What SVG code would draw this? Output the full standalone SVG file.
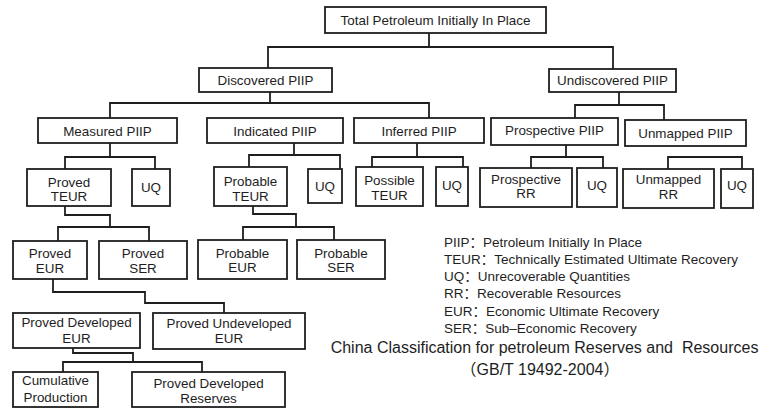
<svg xmlns="http://www.w3.org/2000/svg" width="760" height="409" viewBox="0 0 760 409">
<style>
.b{fill:#fff;stroke:#1e1e1e;stroke-width:1.8}
.c{fill:none;stroke:#1e1e1e;stroke-width:1.8}
text{font-family:"Liberation Sans","Noto Sans CJK SC",Arial,sans-serif;font-size:13.4px;fill:#1e1e1e;text-anchor:middle}
.l{text-anchor:start;font-size:13.5px}
.t{font-size:16px}
</style>
<rect width="760" height="409" fill="#fff"/>
<g id="connectors">
<polyline class="c" points="429,33 429,47"/>
<polyline class="c" points="268,68 268,47 613,47 613,69"/>
<polyline class="c" points="270,92 270,103"/>
<polyline class="c" points="110,118 110,103 429,103 429,118"/>
<polyline class="c" points="619,92 619,105"/>
<polyline class="c" points="575,118 575,105 664,105 664,120"/>
<polyline class="c" points="110,143 110,157"/>
<polyline class="c" points="65,169 65,157 155,157 155,169"/>
<polyline class="c" points="65,206 65,215 110,215 110,227"/>
<polyline class="c" points="58,241 58,227 149,227 149,241"/>
<polyline class="c" points="294,143 294,155"/>
<polyline class="c" points="249,167 249,155 340,155 340,169"/>
<polyline class="c" points="253,206 253,214 296,214 296,227"/>
<polyline class="c" points="243,240 243,227 334,227 334,240"/>
<polyline class="c" points="417,143 417,157"/>
<polyline class="c" points="372,167 372,157 463,157 463,167"/>
<polyline class="c" points="566,145 566,157"/>
<polyline class="c" points="531,168 531,157 603,157 603,168"/>
<polyline class="c" points="668,169 668,157 742,157 742,169"/>
<polyline class="c" points="53,279 53,292 145,292 145,303 224,303 224,313"/>
<polyline class="c" points="73,348 73,353 133,353 133,362"/>
<polyline class="c" points="63,372 63,362 202,362 202,372"/>
</g>
<g id="total"><rect class="b" x="325" y="7" width="221" height="26"/><text x="435.5" y="25">Total Petroleum Initially In Place</text></g>
<g id="discovered"><rect class="b" x="199" y="68" width="133" height="24"/><text x="265.5" y="85">Discovered PIIP</text></g>
<g id="undiscovered"><rect class="b" x="549" y="69" width="127" height="23"/><text x="612.5" y="85">Undiscovered PIIP</text></g>
<g id="measured"><rect class="b" x="38" y="118" width="139" height="25"/><text x="107.5" y="136">Measured PIIP</text></g>
<g id="indicated"><rect class="b" x="207" y="118" width="136" height="25"/><text x="275" y="136">Indicated PIIP</text></g>
<g id="inferred"><rect class="b" x="354" y="118" width="130" height="25"/><text x="419" y="136">Inferred PIIP</text></g>
<g id="prospective"><rect class="b" x="491" y="118" width="127" height="27"/><text x="554.5" y="135">Prospective PIIP</text></g>
<g id="unmapped"><rect class="b" x="625" y="120" width="121" height="26"/><text x="685.5" y="138">Unmapped PIIP</text></g>
<g id="proved-teur"><rect class="b" x="27" y="169" width="84" height="37"/><text x="69" y="187">Proved</text><text x="69" y="201">TEUR</text></g>
<g id="uq1"><rect class="b" x="132" y="169" width="38" height="37"/><text x="151" y="192">UQ</text></g>
<g id="probable-teur"><rect class="b" x="214" y="167" width="73" height="39"/><text x="250.5" y="186">Probable</text><text x="250.5" y="201">TEUR</text></g>
<g id="uq2"><rect class="b" x="308" y="169" width="34" height="34"/><text x="325" y="191">UQ</text></g>
<g id="possible-teur"><rect class="b" x="356" y="167" width="67" height="39"/><text x="389.5" y="185">Possible</text><text x="389.5" y="200">TEUR</text></g>
<g id="uq3"><rect class="b" x="436" y="167" width="32" height="39"/><text x="452" y="190">UQ</text></g>
<g id="prospective-rr"><rect class="b" x="480" y="168" width="92" height="39"/><text x="526" y="184">Prospective</text><text x="526" y="198">RR</text></g>
<g id="uq4"><rect class="b" x="577" y="168" width="40" height="39"/><text x="597" y="190">UQ</text></g>
<g id="unmapped-rr"><rect class="b" x="623" y="169" width="91" height="39"/><text x="668.5" y="184">Unmapped</text><text x="668.5" y="199">RR</text></g>
<g id="uq5"><rect class="b" x="721" y="169" width="32" height="39"/><text x="737" y="190">UQ</text></g>
<g id="proved-eur"><rect class="b" x="13" y="241" width="74" height="38"/><text x="50" y="258">Proved</text><text x="50" y="273">EUR</text></g>
<g id="proved-ser"><rect class="b" x="99" y="241" width="88" height="38"/><text x="143" y="258">Proved</text><text x="143" y="273">SER</text></g>
<g id="probable-eur"><rect class="b" x="198" y="240" width="89" height="39"/><text x="242.5" y="258">Probable</text><text x="242.5" y="272">EUR</text></g>
<g id="probable-ser"><rect class="b" x="297" y="240" width="88" height="39"/><text x="341" y="258">Probable</text><text x="341" y="272">SER</text></g>
<g id="proved-developed-eur"><rect class="b" x="13" y="313" width="127" height="35"/><text x="76.5" y="327">Proved Developed</text><text x="76.5" y="343">EUR</text></g>
<g id="proved-undeveloped-eur"><rect class="b" x="153" y="313" width="152" height="36"/><text x="229" y="328">Proved Undeveloped</text><text x="229" y="343">EUR</text></g>
<g id="cumulative-production"><rect class="b" x="13" y="372" width="85" height="35"/><text x="55.5" y="385">Cumulative</text><text x="55.5" y="402">Production</text></g>
<g id="proved-developed-reserves"><rect class="b" x="132" y="372" width="153" height="35"/><text x="208.5" y="388">Proved Developed</text><text x="208.5" y="403">Reserves</text></g>
<g id="legend">
<text class="l" x="444" y="247">PIIP：Petroleum Initially In Place</text>
<text class="l" x="444" y="264">TEUR：Technically Estimated Ultimate Recovery</text>
<text class="l" x="444" y="281">UQ：Unrecoverable Quantities</text>
<text class="l" x="444" y="298">RR：Recoverable Resources</text>
<text class="l" x="444" y="316">EUR：Economic Ultimate Recovery</text>
<text class="l" x="444" y="333">SER：Sub–Economic Recovery</text>
</g>
<g id="title">
<text class="t" x="544.5" y="353">China Classification for petroleum Reserves and&#160; Resources</text>
<text class="t" x="540" y="375">（GB/T 19492-2004）</text>
</g>
</svg>
